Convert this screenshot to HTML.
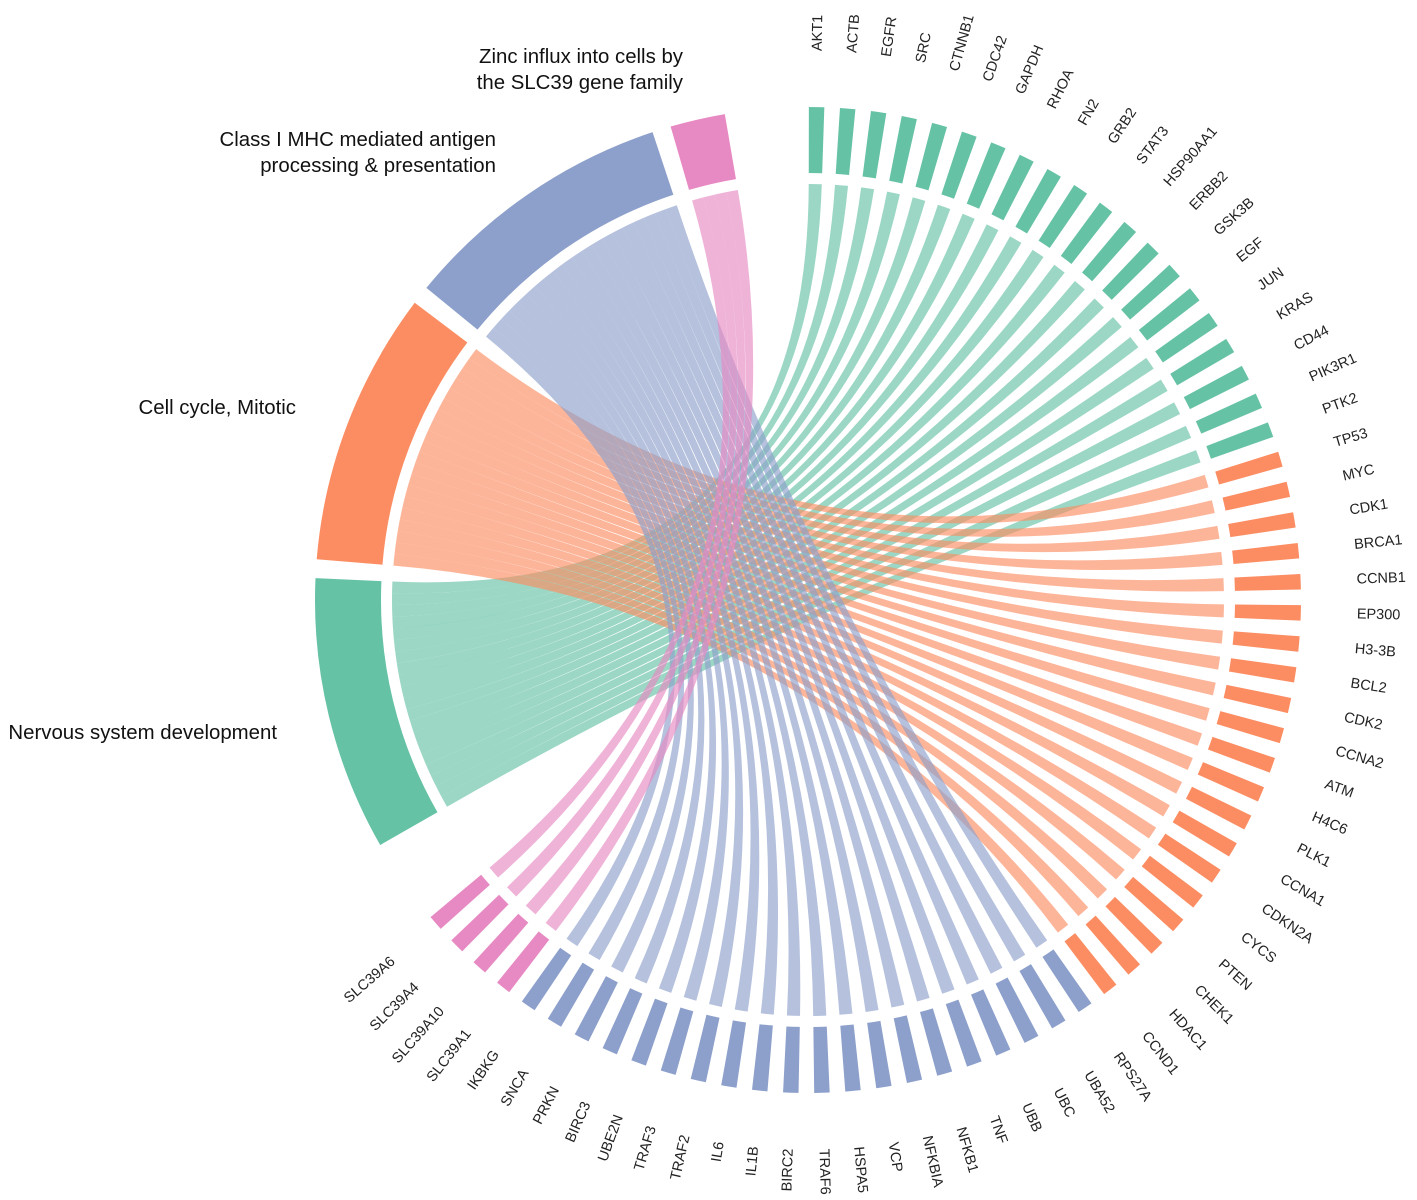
<!DOCTYPE html>
<html lang="en">
<head>
<meta charset="utf-8">
<title>Gene to pathway chord diagram</title>
<style>
html,body{margin:0;padding:0;background:#fff;}
svg{display:block;font-family:"Liberation Sans",Arial,sans-serif;}
.term{font-size:20.4px;fill:#111;}
.gene{font-size:14.5px;fill:#222;}
</style>
</head>
<body>
<svg id="chart" width="1417" height="1200" viewBox="0 0 1417 1200" xmlns="http://www.w3.org/2000/svg">
  <rect width="1417" height="1200" fill="#fff"/>
  <g id="ribbons"></g>
  <g id="sectors"></g>
  <g id="bars"></g>
  <g id="labels"></g>
  <text class="term" x="683" y="63" text-anchor="end">Zinc influx into cells by</text>
  <text class="term" x="683" y="89" text-anchor="end">the SLC39 gene family</text>
  <text class="term" x="496" y="146" text-anchor="end">Class I MHC mediated antigen</text>
  <text class="term" x="496" y="172" text-anchor="end">processing &amp; presentation</text>
  <text class="term" x="296" y="414" text-anchor="end">Cell cycle, Mitotic</text>
  <text class="term" x="277" y="739" text-anchor="end">Nervous system development</text>
</svg>
<script>
// Categories
const termNames = ["nervous-system", "cell-cycle", "mhc-antigen", "zinc-influx"];
const termColors = ["#66C2A5", "#FC8D62", "#8DA0CB", "#E78AC3"];
const nervousGenes = ["AKT1","ACTB","EGFR","SRC","CTNNB1","CDC42","GAPDH","RHOA","FN2","GRB2","STAT3","HSP90AA1","ERBB2","GSK3B","EGF","JUN","KRAS","CD44","PIK3R1","PTK2"];
const cycleGenes = ["TP53","MYC","CDK1","BRCA1","CCNB1","EP300","H3-3B","BCL2","CDK2","CCNA2","ATM","H4C6","PLK1","CCNA1","CDKN2A","CYCS","PTEN","CHEK1","HDAC1","CCND1"];
const mhcGenes = ["RPS27A","UBA52","UBC","UBB","TNF","NFKB1","NFKBIA","VCP","HSPA5","TRAF6","BIRC2","IL1B","IL6","TRAF2","TRAF3","UBE2N","BIRC3","PRKN","SNCA","IKBKG"];
const zincGenes = ["SLC39A1","SLC39A10","SLC39A4","SLC39A6"];
// Series values: link weight of each gene
const nervousWeights = [1,1,1,1,1,1,1,1,1,1,1,1,1,1,1,1,1,1,1,1];
const cycleWeights = [1,1,1,1,1,1,1,1,1,1,1,1,1,1,1,1,1,1,1,1];
const mhcWeights = [1,1,1,1,1,1,1,1,1,1,1,1,1,1,1,1,1,1,1,1];
const zincWeights = [1,1,1,1];

const groups = [
  {genes: nervousGenes, weights: nervousWeights},
  {genes: cycleGenes, weights: cycleWeights},
  {genes: mhcGenes, weights: mhcWeights},
  {genes: zincGenes, weights: zincWeights}
];

const NS = "http://www.w3.org/2000/svg";
const CX = 808, CY = 600;
const R_OUT = 493, R_IN = 427, R_RIBBON = 416, R_LABEL = 549;
const GENE_START = 0.1, GENE_STEP = 3.62, GENE_UNIT = 1.8;
const TERM_START = 240.2, TERM_GAP = 2.2, TERM_UNIT = 1.617;
const CONTROL_OFFSET = 0.3;

function px(a, r){ return CX + r * Math.sin(a * Math.PI / 180); }
function py(a, r){ return CY - r * Math.cos(a * Math.PI / 180); }
function pt(a, r){ return px(a, r).toFixed(2) + " " + py(a, r).toFixed(2); }
function arcTo(a, r){ return "A" + r + " " + r + " 0 0 1 " + pt(a, r); }

function sectorPath(a1, a2, r1, r2){
  return "M" + pt(a1, r2) + arcTo(a2, r2) + "L" + pt(a2, r1) +
         "A" + r1 + " " + r1 + " 0 0 0 " + pt(a1, r1) + "Z";
}
function ribbonPath(t1, t2, g1, g2){
  const bisector = (t2 + g1 + 360) / 2;
  return "M" + pt(t1, R_RIBBON) + arcTo(t2, R_RIBBON) +
         "Q" + pt(bisector, CONTROL_OFFSET) + " " + pt(g1, R_RIBBON) + arcTo(g2, R_RIBBON) +
         "Q" + pt(bisector, -CONTROL_OFFSET) + " " + pt(t1, R_RIBBON) + "Z";
}

const ribbonLayer = document.getElementById("ribbons");
const sectorLayer = document.getElementById("sectors");
const barLayer = document.getElementById("bars");
const labelLayer = document.getElementById("labels");

let termAngle = TERM_START;
let geneIndex = 0;

groups.forEach(function(group, gi){
  const total = group.weights.reduce(function(s, v){ return s + v; }, 0);
  const sectorStart = termAngle;
  const sectorEnd = termAngle + total * TERM_UNIT;
  let cursor = sectorEnd;

  group.genes.forEach(function(gene, i){
    const w = group.weights[i];
    const g1 = GENE_START + geneIndex * GENE_STEP;
    const g2 = g1 + w * GENE_UNIT;
    const t2 = cursor;
    const t1 = t2 - w * TERM_UNIT;

    const ribbon = document.createElementNS(NS, "path");
    ribbon.setAttribute("d", ribbonPath(t1, t2, g1, g2));
    ribbon.setAttribute("fill", termColors[gi]);
    ribbon.setAttribute("fill-opacity", "0.65");
    
    
    ribbonLayer.appendChild(ribbon);

    const bar = document.createElementNS(NS, "path");
    bar.setAttribute("d", sectorPath(g1, g2, R_IN, R_OUT));
    bar.setAttribute("fill", termColors[gi]);
    
    
    barLayer.appendChild(bar);

    const mid = (g1 + g2) / 2;
    const label = document.createElementNS(NS, "text");
    label.setAttribute("class", "gene");
    label.setAttribute("x", px(mid, R_LABEL).toFixed(2));
    label.setAttribute("y", py(mid, R_LABEL).toFixed(2));
    label.setAttribute("dominant-baseline", "central");
    const right = mid < 180;
    label.setAttribute("text-anchor", right ? "start" : "end");
    label.setAttribute("transform", "rotate(" + (right ? mid - 90 : mid + 90).toFixed(2) + " " + px(mid, R_LABEL).toFixed(2) + " " + py(mid, R_LABEL).toFixed(2) + ")");
    
    
    label.textContent = gene;
    labelLayer.appendChild(label);

    cursor = t1;
    geneIndex++;
  });

  const sector = document.createElementNS(NS, "path");
  sector.setAttribute("d", sectorPath(sectorStart, sectorEnd, R_IN, R_OUT));
  sector.setAttribute("fill", termColors[gi]);
  
  
  sectorLayer.appendChild(sector);

  termAngle = sectorEnd + TERM_GAP;
});
</script>
</body>
</html>
